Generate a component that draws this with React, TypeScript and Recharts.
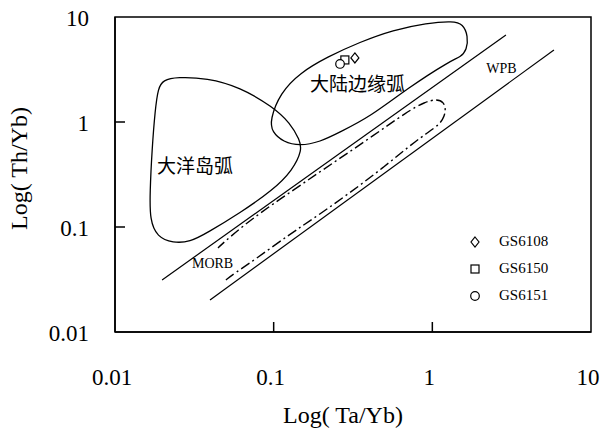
import React from 'react';
import {
  ComposedChart,
  XAxis,
  YAxis,
  Line,
  Scatter,
  ReferenceArea,
  Legend,
} from 'recharts';

// ---- axis ticks ----
const xTicks = [0.01, 0.1, 1, 10];
const yTicks = [0.01, 0.1, 1, 10];
const tickLabels = ['0.01', '0.1', '1', '10'];

// ---- field outlines (Ta/Yb, Th/Yb) ----
const oceanicArc = [
  { x: 0.0201, y: 2.51 }, { x: 0.0246, y: 2.68 }, { x: 0.038, y: 2.62 },
  { x: 0.0613, y: 2.15 }, { x: 0.099, y: 1.39 }, { x: 0.127, y: 0.978 },
  { x: 0.146, y: 0.674 }, { x: 0.151, y: 0.541 }, { x: 0.132, y: 0.349 },
  { x: 0.099, y: 0.225 }, { x: 0.0613, y: 0.136 }, { x: 0.038, y: 0.0877 },
  { x: 0.0297, y: 0.072 }, { x: 0.0232, y: 0.0704 }, { x: 0.0184, y: 0.0803 },
  { x: 0.0166, y: 0.117 }, { x: 0.0166, y: 0.211 }, { x: 0.0171, y: 0.541 },
  { x: 0.0179, y: 1.3 }, { x: 0.0187, y: 2.11 },
];

const continentalArc = [
  { x: 0.0948, y: 1.045 }, { x: 0.11, y: 1.89 }, { x: 0.146, y: 2.93 },
  { x: 0.217, y: 4.16 }, { x: 0.35, y: 5.78 }, { x: 0.565, y: 7.52 },
  { x: 0.925, y: 8.77 }, { x: 1.35, y: 9.16 }, { x: 1.56, y: 8.58 },
  { x: 1.68, y: 6.59 }, { x: 1.65, y: 4.85 }, { x: 1.51, y: 4.16 },
  { x: 1.29, y: 3.81 }, { x: 0.702, y: 2.11 }, { x: 0.405, y: 1.12 },
  { x: 0.262, y: 0.803 }, { x: 0.196, y: 0.645 }, { x: 0.146, y: 0.591 },
  { x: 0.115, y: 0.645 }, { x: 0.0976, y: 0.803 },
];

const morbField = [
  { x: 0.05, y: 0.0313 }, { x: 0.057, y: 0.0365 }, { x: 0.0741, y: 0.0475 },
  { x: 0.127, y: 0.0858 }, { x: 0.169, y: 0.114 }, { x: 0.29, y: 0.202 },
  { x: 0.488, y: 0.365 }, { x: 0.812, y: 0.689 }, { x: 1.04, y: 0.877 },
  { x: 1.17, y: 1.045 }, { x: 1.22, y: 1.3 }, { x: 1.18, y: 1.55 },
  { x: 1.07, y: 1.66 }, { x: 0.898, y: 1.55 }, { x: 0.702, y: 1.27 },
  { x: 0.405, y: 0.704 }, { x: 0.236, y: 0.407 }, { x: 0.136, y: 0.23 },
  { x: 0.0709, y: 0.117 }, { x: 0.0472, y: 0.0689 }, { x: 0.0446, y: 0.0631 },
];

const wpbUpper = [{ x: 0.0198, y: 0.0313 }, { x: 2.91, y: 6.74 }];
const wpbLower = [{ x: 0.0397, y: 0.0202 }, { x: 5.84, y: 4.85 }];

// ---- samples ----
const gs6108 = [{ x: 0.325, y: 4.07 }];
const gs6150 = [{ x: 0.281, y: 3.9 }];
const gs6151 = [{ x: 0.262, y: 3.57 }];

// ---- field names ----
const fieldLabels = [
  { x: 0.337, y: 2.4, text: '大陆边缘弧', cjk: true },
  { x: 0.0319, y: 0.398, text: '大洋岛弧', cjk: true },
  { x: 0.0412, y: 0.0454, text: 'MORB', cjk: false },
  { x: 2.73, y: 3.2, text: 'WPB', cjk: false },
];

const SERIF = "'Liberation Serif', 'Times New Roman', serif";
const CJK = "'Noto Sans CJK SC', sans-serif";

const Marker = ({ kind, cx, cy, s = 1 }: { kind: string; cx: number; cy: number; s?: number }) => {
  if (kind === 'diamond') {
    return (
      <path
        d={`M${cx},${cy - 5 * s} L${cx + 4 * s},${cy} L${cx},${cy + 5 * s} L${cx - 4 * s},${cy} Z`}
        fill="#fff"
        stroke="#000"
        strokeWidth={1.2}
      />
    );
  }
  if (kind === 'square') {
    return (
      <rect x={cx - 4 * s} y={cy - 4 * s} width={8 * s} height={8 * s} fill="#fff" stroke="#000" strokeWidth={1.2} />
    );
  }
  return <circle cx={cx} cy={cy} r={4.3 * s} fill="#fff" stroke="#000" strokeWidth={1.2} />;
};

const shapeFor = (kind: string) => (p: any) => <Marker kind={kind} cx={p.cx} cy={p.cy} />;

const labelShape = (p: any) => (
  <text
    x={p.cx}
    y={p.cy}
    textAnchor="middle"
    dominantBaseline="central"
    fontFamily={p.payload.cjk ? CJK : SERIF}
    fontSize={p.payload.cjk ? 19 : 14}
    fill="#000"
  >
    {p.payload.text}
  </text>
);

const XTick = (props: any) => {
  const { x, y, payload } = props;
  const v = payload.value;
  const inner = v > 0.011 && v < 9.9;
  return (
    <g>
      {inner && <line x1={x} x2={x} y1={y} y2={y - 10} stroke="#000" strokeWidth={1.5} />}
      <text x={x - 3} y={y + 53} textAnchor="middle" fontFamily={SERIF} fontSize={23} fill="#000">
        {tickLabels[xTicks.indexOf(v)]}
      </text>
    </g>
  );
};

const YTick = (props: any) => {
  const { x, y, payload } = props;
  const v = payload.value;
  const inner = v > 0.011 && v < 9.9;
  return (
    <g>
      {inner && <line x1={x} x2={x + 10} y1={y} y2={y} stroke="#000" strokeWidth={1.5} />}
      <text x={x - 26} y={y + 9} textAnchor="end" fontFamily={SERIF} fontSize={23} fill="#000">
        {tickLabels[yTicks.indexOf(v)]}
      </text>
    </g>
  );
};

const LegendContent = (props: any) => {
  const items = (props.payload || []).filter((p: any) => p.type !== 'none');
  return (
    <div style={{ display: 'flex', flexDirection: 'column' }}>
      {items.map((p: any) => (
        <div key={p.value} style={{ display: 'flex', alignItems: 'center', height: 27 }}>
          <svg width={14} height={14} style={{ display: 'block' }}>
            <Marker kind={p.type} cx={7} cy={7} />
          </svg>
          <span style={{ marginLeft: 17, fontFamily: SERIF, fontSize: 15, color: '#000', lineHeight: '27px' }}>
            {p.value}
          </span>
        </div>
      ))}
    </div>
  );
};

export default function App() {
  return (
    <div style={{ position: 'absolute', left: 0, top: 0, width: 606, height: 429, background: '#fff' }}>
      <ComposedChart width={606} height={429} margin={{ top: 17, right: 15, bottom: 0, left: 0 }}>
        <XAxis
          dataKey="x"
          type="number"
          scale="log"
          domain={[0.01, 10]}
          allowDataOverflow
          ticks={xTicks}
          interval={0}
          height={97}
          tickSize={0}
          tickMargin={0}
          tickLine={false}
          tick={<XTick />}
          axisLine={{ stroke: '#000', strokeWidth: 1.5 }}
          label={{
            content: (p: any) => {
              const vb = p.viewBox;
              return (
                <text x={vb.x + vb.width / 2 - 10} y={423} textAnchor="middle" fontFamily={SERIF} fontSize={24} fill="#000">
                  Log( Ta/Yb)
                </text>
              );
            },
          }}
        />
        <YAxis
          dataKey="y"
          type="number"
          scale="log"
          domain={[0.01, 10]}
          allowDataOverflow
          ticks={yTicks}
          interval={0}
          width={115}
          tickSize={0}
          tickMargin={0}
          tickLine={false}
          tick={<YTick />}
          axisLine={{ stroke: '#000', strokeWidth: 1.5 }}
          label={{
            content: (p: any) => {
              const vb = p.viewBox;
              const cy = vb.y + vb.height / 2 - 6;
              return (
                <text
                  x={19}
                  y={cy}
                  transform={`rotate(-90 19 ${cy})`}
                  textAnchor="middle"
                  dominantBaseline="central"
                  fontFamily={SERIF}
                  fontSize={24}
                  fill="#000"
                >
                  Log( Th/Yb)
                </text>
              );
            },
          }}
        />
        <ReferenceArea x1={0.01} x2={10} y1={0.01} y2={10} fill="none" stroke="#000" strokeWidth={1.5} ifOverflow="visible" />
        <Line data={oceanicArc} dataKey="y" type="basisClosed" stroke="#000" strokeWidth={1.3} dot={false} activeDot={false} legendType="none" isAnimationActive={false} />
        <Line data={continentalArc} dataKey="y" type="basisClosed" stroke="#000" strokeWidth={1.3} dot={false} activeDot={false} legendType="none" isAnimationActive={false} />
        <Line data={morbField} dataKey="y" type="basis" stroke="#000" strokeWidth={1.4} strokeDasharray="10 3.5 2 3.5" dot={false} activeDot={false} legendType="none" isAnimationActive={false} />
        <Line data={wpbUpper} dataKey="y" type="linear" stroke="#000" strokeWidth={1.2} dot={false} activeDot={false} legendType="none" isAnimationActive={false} />
        <Line data={wpbLower} dataKey="y" type="linear" stroke="#000" strokeWidth={1.2} dot={false} activeDot={false} legendType="none" isAnimationActive={false} />
        <Scatter data={fieldLabels} shape={labelShape} legendType="none" isAnimationActive={false} />
        <Scatter name="GS6108" data={gs6108} shape={shapeFor('diamond')} legendType="diamond" isAnimationActive={false} />
        <Scatter name="GS6150" data={gs6150} shape={shapeFor('square')} legendType="square" isAnimationActive={false} />
        <Scatter name="GS6151" data={gs6151} shape={shapeFor('circle')} legendType="circle" isAnimationActive={false} />
        <Legend
          layout="vertical"
          align="center"
          verticalAlign="middle"
          content={<LegendContent />}
          wrapperStyle={{ left: 468, top: 228, width: 120 }}
        />
      </ComposedChart>
    </div>
  );
}
